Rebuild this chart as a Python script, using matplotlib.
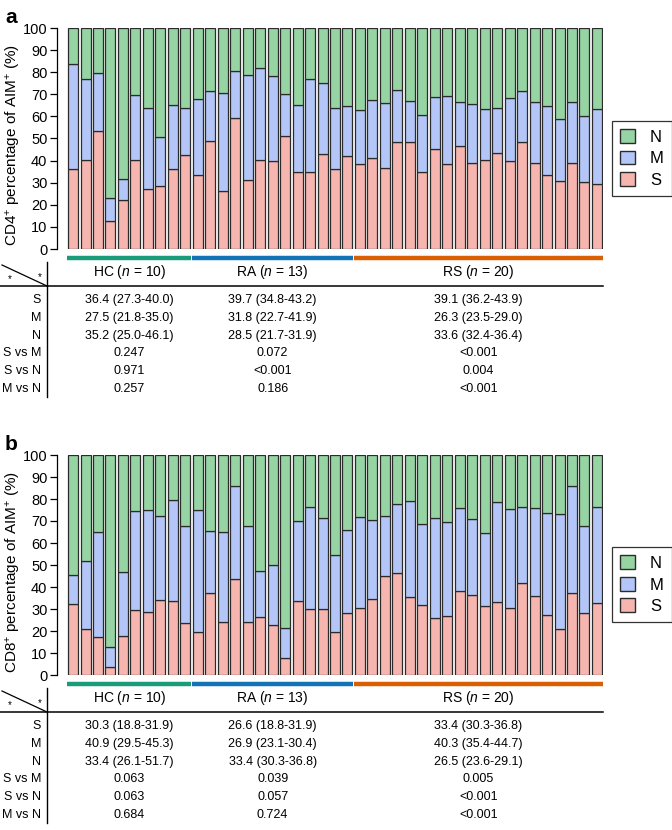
import matplotlib
matplotlib.use("Agg")
import matplotlib.pyplot as plt
import matplotlib.transforms as mtransforms
from matplotlib.lines import Line2D
from matplotlib.patches import Patch
import numpy as np

plt.rcParams['font.family'] = ['Liberation Sans', 'DejaVu Sans']
plt.rcParams['mathtext.fontset'] = 'custom'
plt.rcParams['mathtext.rm'] = 'Liberation Sans'
plt.rcParams['mathtext.it'] = 'Liberation Sans:italic'

# grupos
groups = ["HC", "RA", "RS"]
group_n = [10, 13, 20]

# painel a: CD4+ (topo de S e topo de S+M)
cd4_s = [36.4, 40.1, 53.6, 12.8, 22.0, 40.1, 27.1, 28.3, 36.3, 42.5,
         33.7, 48.8, 26.2, 59.5, 31.2, 40.1, 39.6, 51.2, 34.9, 34.8, 43.2, 36.1, 42.3,
         38.4, 41.1, 36.6, 48.5, 48.2, 34.8, 45.2, 38.6, 46.5, 39.0, 40.2, 43.4, 39.6,
         48.6, 38.9, 33.7, 30.9, 38.9, 30.1, 29.2]
cd4_sm = [83.6, 76.7, 79.8, 22.9, 31.8, 69.9, 64.0, 50.5, 65.2, 64.0,
          67.9, 71.5, 70.5, 80.7, 78.8, 81.9, 78.3, 70.2, 65.2, 76.7, 75.0, 63.6, 64.5,
          62.7, 67.3, 66.0, 72.0, 67.0, 60.8, 68.7, 69.1, 66.7, 65.5, 63.4, 63.7, 68.4,
          71.7, 66.7, 64.9, 58.7, 66.7, 60.4, 63.3]

# painel b: CD8+
cd8_s = [32.1, 21.1, 17.1, 3.5, 17.6, 29.7, 28.8, 34.2, 33.5, 23.8,
         19.5, 37.3, 24.2, 43.6, 24.2, 26.4, 22.7, 7.7, 33.5, 29.8, 30.2, 19.4, 28.2,
         30.6, 34.4, 44.8, 46.2, 35.3, 31.7, 25.8, 27.0, 38.0, 36.2, 31.5, 33.3, 30.6,
         41.7, 36.1, 27.4, 20.9, 37.1, 28.3, 32.9]
cd8_sm = [45.5, 51.7, 65.0, 12.7, 46.8, 74.4, 74.8, 72.4, 79.5, 67.9,
          74.8, 65.6, 65.2, 85.8, 67.6, 47.3, 50.2, 21.4, 69.8, 76.2, 71.5, 54.4, 65.8,
          72.0, 70.3, 72.3, 77.7, 78.9, 68.5, 71.4, 69.5, 75.9, 70.9, 64.7, 78.5, 75.5,
          76.2, 75.8, 73.6, 73.2, 86.1, 67.7, 76.2]

row_labels = ["S", "M", "N", "S vs M", "S vs N", "M vs N"]
cd4_table = [["36.4 (27.3-40.0)", "39.7 (34.8-43.2)", "39.1 (36.2-43.9)"],
             ["27.5 (21.8-35.0)", "31.8 (22.7-41.9)", "26.3 (23.5-29.0)"],
             ["35.2 (25.0-46.1)", "28.5 (21.7-31.9)", "33.6 (32.4-36.4)"],
             ["0.247", "0.072", "<0.001"],
             ["0.971", "<0.001", "0.004"],
             ["0.257", "0.186", "<0.001"]]
cd8_table = [["30.3 (18.8-31.9)", "26.6 (18.8-31.9)", "33.4 (30.3-36.8)"],
             ["40.9 (29.5-45.3)", "26.9 (23.1-30.4)", "40.3 (35.4-44.7)"],
             ["33.4 (26.1-51.7)", "33.4 (30.3-36.8)", "26.5 (23.6-29.1)"],
             ["0.063", "0.039", "0.005"],
             ["0.063", "0.057", "<0.001"],
             ["0.684", "0.724", "<0.001"]]

col_s = "#F7B5B0"
col_m = "#B3C6F7"
col_n = "#96D4A4"
group_cols = ["#1A9B7A", "#1273B6", "#D95F02"]

W, H = 672, 830
fig = plt.figure(figsize=(W / 100, H / 100), dpi=100)


def fy(py):
    return 1 - py / H


def panel(top, bottom, s_top, sm_top, ylab, letter, tab, tab_top):
    ax = fig.add_axes([66.8 / W, fy(bottom), (603.2 - 66.8) / W, (bottom - top) / H])
    s = np.array(s_top)
    m = np.array(sm_top) - s
    n = 100 - np.array(sm_top)
    x = np.arange(len(s))
    kw = dict(width=0.8, edgecolor="#2b2b2b", linewidth=0.9)
    ax.bar(x, s, color=col_s, **kw)
    ax.bar(x, m, bottom=s, color=col_m, **kw)
    ax.bar(x, n, bottom=s + m, color=col_n, **kw)
    ax.set_xlim(-0.5, len(s) - 0.5)
    ax.set_ylim(0, 100)
    ax.set_yticks(range(0, 101, 10))
    ax.tick_params(axis="y", labelsize=10.5, length=5, width=0.9, pad=2)
    for sp in ["top", "right", "bottom"]:
        ax.spines[sp].set_visible(False)
    ax.spines["left"].set_position(("outward", 7))
    ax.spines["left"].set_linewidth(0.9)
    ax.set_xticks([])
    ax.set_ylabel(ylab, fontsize=11)
    ax.yaxis.set_label_coords((23 - 66.8) / (603.2 - 66.8), 0.47)
    fig.text(5 / W, fy(top - 20), letter, fontsize=15, fontweight="bold", va="top")

    handles = [Patch(facecolor=col_n, edgecolor="#2b2b2b"),
               Patch(facecolor=col_m, edgecolor="#2b2b2b"),
               Patch(facecolor=col_s, edgecolor="#2b2b2b")]
    leg = ax.legend(handles, ["N", "M", "S"], loc="center left",
                    bbox_to_anchor=(1.016, 0.41), fontsize=12, frameon=True,
                    fancybox=False, edgecolor="black", handlelength=0.9,
                    handleheight=0.9, handletextpad=0.9, borderpad=0.5,
                    labelspacing=0.35, borderaxespad=0)
    leg.get_frame().set_linewidth(0.9)

    # barras dos grupos
    starts = np.cumsum([0] + group_n[:-1])
    centers = []
    for st, nn, c in zip(starts, group_n, group_cols):
        ax.hlines(-0.04, st - 0.48, st + nn - 0.52, colors=c, linewidth=3.2,
                  transform=ax.get_xaxis_transform(), clip_on=False)
        centers.append(st + (nn - 1) / 2)

    # tabela
    tr = mtransforms.blended_transform_factory(ax.transData, fig.transFigure)
    for c, g, nn in zip(centers, groups, group_n):
        fig.text(c, fy(tab_top + 10), g + " ($\\mathit{n}$ = %d)" % nn,
                 transform=tr, ha="center", va="center", fontsize=10)
    fig.add_artist(Line2D([0, 603 / W], [fy(tab_top + 24)] * 2, color="black", lw=1.1))
    fig.add_artist(Line2D([47 / W] * 2, [fy(tab_top), fy(tab_top + 135)], color="black", lw=1))
    fig.add_artist(Line2D([2 / W, 47 / W], [fy(tab_top + 3), fy(tab_top + 24)], color="black", lw=0.9))
    fig.text(10 / W, fy(tab_top + 17), "*", fontsize=7, ha="center", va="center")
    fig.text(40 / W, fy(tab_top + 15), "*", fontsize=7, ha="center", va="center")
    for i, lab in enumerate(row_labels):
        yy = fy(tab_top + 38 + i * 17.8)
        fig.text(41 / W, yy, lab, ha="right", va="center", fontsize=9)
        for c, val in zip(centers, tab[i]):
            fig.text(c, yy, val, transform=tr, ha="center", va="center", fontsize=9)
    return ax


panel(28, 249, cd4_s, cd4_sm, "CD4$^{+}$ percentage of AIM$^{+}$ (%)", "a", cd4_table, 262)
panel(455, 675, cd8_s, cd8_sm, "CD8$^{+}$ percentage of AIM$^{+}$ (%)", "b", cd8_table, 688)

fig.savefig("out.png", dpi=100)
